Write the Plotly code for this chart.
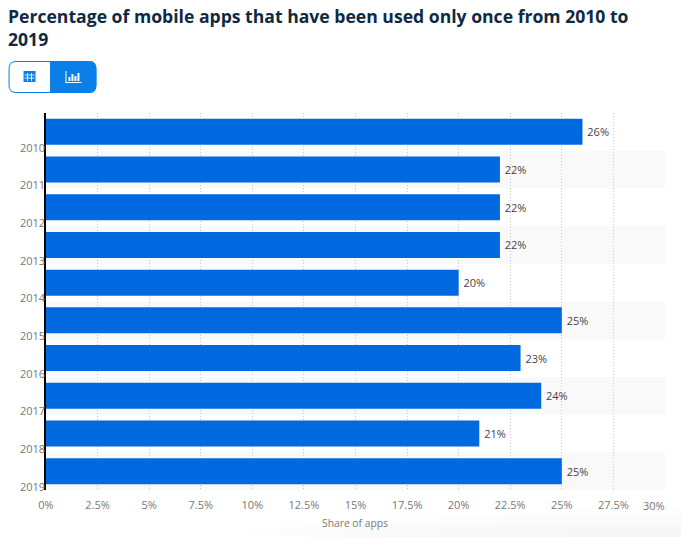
import plotly.graph_objects as go

W, H = 682, 537
L, R, T, B = 45.5, 665.5, 113, 490

years = ["2010", "2011", "2012", "2013", "2014", "2015", "2016", "2017", "2018", "2019"]
values = [26, 22, 22, 22, 20, 25, 23, 24, 21, 25]
x_ticks = [0, 2.5, 5, 7.5, 10, 12.5, 15, 17.5, 20, 22.5, 25, 27.5, 30]
x_tick_text = ["0%", "2.5%", "5%", "7.5%", "10%", "12.5%", "15%", "17.5%", "20%", "22.5%", "25%", "27.5%", ""]
title_text = "Percentage of mobile apps that have been used only once from 2010 to<br>2019"

FONT = "Open Sans"
BLUE = "#0069e0"
BTN = "#0a7fe8"


def px(x):
    return (x - L) / (R - L)


def py(y):
    return (B - y) / (B - T)


def rect(x0, y0, x1, y1, fill, op=1.0):
    return dict(type="rect", xref="paper", yref="paper", x0=px(x0), x1=px(x1), y0=py(y0), y1=py(y1),
                fillcolor=fill, opacity=op, line_width=0, layer="above")


positions = list(range(len(years)))
shapes = []
# alternating bands
for i in positions:
    if i % 2 == 1:
        shapes.append(dict(type="rect", xref="paper", yref="y", x0=0, x1=1, y0=i - 0.5, y1=i + 0.5,
                           fillcolor="#f9f9f9", line_width=0, layer="below"))


def rounded(x0, y0, x1, y1, r, fill, line, rl=True, rr=True):
    X, Y = px, py
    d = ""
    if rl:
        d += f"M{X(x0)},{Y(y0 + r)} Q{X(x0)},{Y(y0)} {X(x0 + r)},{Y(y0)} "
    else:
        d += f"M{X(x0)},{Y(y0)} "
    if rr:
        d += f"L{X(x1 - r)},{Y(y0)} Q{X(x1)},{Y(y0)} {X(x1)},{Y(y0 + r)} L{X(x1)},{Y(y1 - r)} Q{X(x1)},{Y(y1)} {X(x1 - r)},{Y(y1)} "
    else:
        d += f"L{X(x1)},{Y(y0)} L{X(x1)},{Y(y1)} "
    if rl:
        d += f"L{X(x0 + r)},{Y(y1)} Q{X(x0)},{Y(y1)} {X(x0)},{Y(y1 - r)} Z"
    else:
        d += f"L{X(x0)},{Y(y1)} Z"
    return dict(type="path", xref="paper", yref="paper", path=d, fillcolor=fill,
                line=dict(color=line, width=1), layer="above")


shapes.append(rounded(8.5, 61.5, 95.5, 92.5, 7, "#ffffff", BTN))
shapes.append(rounded(50, 61.5, 95.5, 92.5, 7, BTN, BTN, rl=False))
# table icon
shapes.append(rect(23, 71, 35, 82, "#0a7fe8"))
for gx in (26.6, 30.6):
    shapes.append(rect(gx, 73, gx + 0.8, 81, "#ffffff"))
for gy in (74.6, 77.6):
    shapes.append(rect(24, gy, 34, gy + 0.8, "#ffffff"))
# chart icon
shapes.append(rect(65, 71, 66, 83, "#ffffff"))
shapes.append(rect(65, 82, 81, 83, "#ffffff"))
for bx, by in ((68, 77), (71, 74), (74, 76), (77, 73)):
    shapes.append(rect(bx, by, bx + 2, 81, "#ffffff"))
# soft shadow at the page bottom
for k, (x0, y0) in enumerate([(250, 532), (262, 528), (280, 525), (305, 522), (340, 519), (385, 516), (440, 513), (500, 510), (570, 507)]):
    shapes.append(dict(type="rect", xref="paper", yref="paper", x0=px(x0), x1=px(W), y0=py(y0), y1=py(H),
                       fillcolor="#000000", opacity=0.005, line_width=0, layer="below"))

fig = go.Figure(go.Bar(
    y=positions, x=values, orientation="h", width=0.69, marker=dict(color=BLUE, line_width=0),
    text=[f"\u2009{v}%" for v in values], textposition="outside", cliponaxis=False,
    textfont=dict(family=FONT, size=11, color="#444444"), hoverinfo="skip",
))

title_font = dict(family=FONT, size=17.6, color="#0f2a44", weight="bold")
annotations = [
    dict(text=title_text, xref="paper", yref="paper", x=px(8), y=py(27.5), xanchor="left", yanchor="middle",
         align="left", showarrow=False, xshift=-3, font=title_font),
    dict(text="30%", xref="paper", yref="paper", x=px(668), y=py(505.5), xanchor="right", yanchor="middle",
         showarrow=False, font=dict(family=FONT, size=11, color="#777777")),
    dict(text="Share of apps", xref="paper", yref="paper", x=px(355), y=py(522.5), xanchor="center", yanchor="middle",
         showarrow=False, font=dict(family=FONT, size=10.3, color="#777777")),
]

fig.update_layout(
    width=W, height=H, margin=dict(l=L, r=W - R, t=T, b=H - B), autosize=False,
    paper_bgcolor="#ffffff", plot_bgcolor="#ffffff", showlegend=False, bargap=0.31,
    shapes=shapes, annotations=annotations,
    xaxis=dict(range=[0, 30], tickvals=x_ticks, ticktext=x_tick_text, showgrid=True, gridcolor="#c8c8c8",
               griddash="1px,2px", gridwidth=1, zeroline=False, showline=False, ticks="", automargin=False,
               ticklabelstandoff=7, tickfont=dict(family=FONT, size=11, color="#777777")),
    yaxis=dict(range=[9.5, -0.5], tickvals=[p + 0.42 for p in positions], ticktext=years, showgrid=False,
               zeroline=False, showline=True, linecolor="#000000", linewidth=1.5, ticks="", automargin=False,
               ticklabelstandoff=-3, tickfont=dict(family=FONT, size=11, color="#777777")),
)

fig.write_html("out.html", config={"displayModeBar": False},
               post_script="document.body.style.margin='0';document.documentElement.style.overflow='hidden';")
